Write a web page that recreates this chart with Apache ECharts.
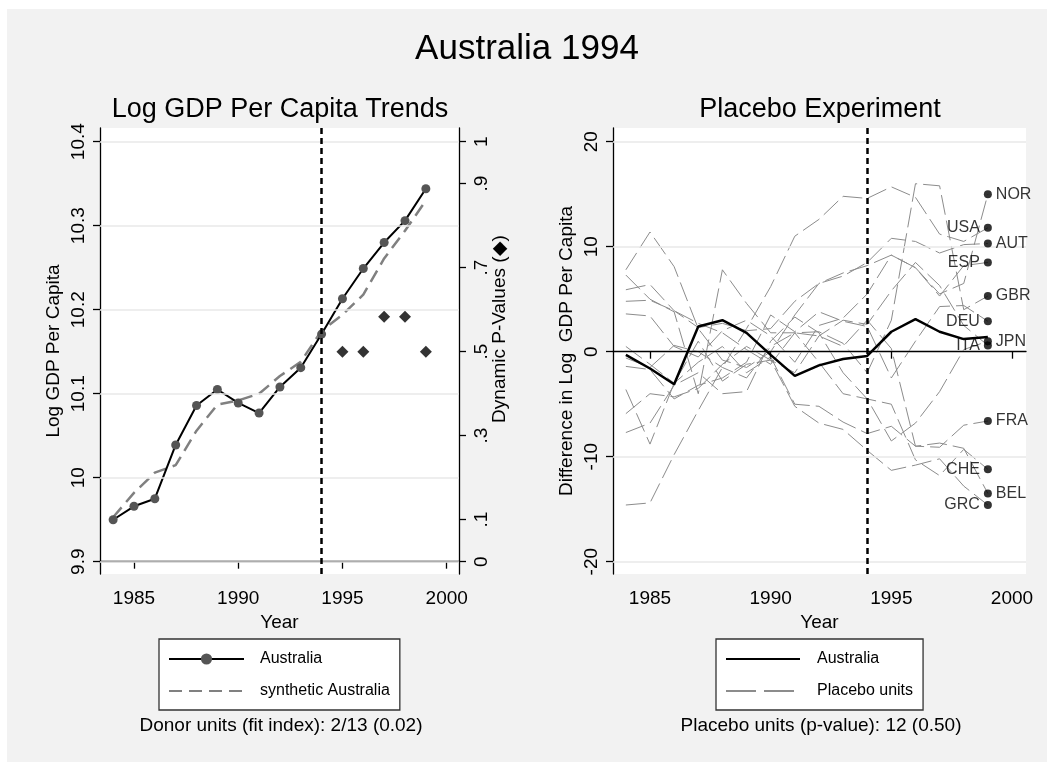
<!DOCTYPE html>
<html>
<head>
<meta charset="utf-8">
<script src="https://cdn.jsdelivr.net/npm/echarts@6/dist/echarts.min.js"></script>
<style>
  html, body { margin: 0; padding: 0; background: #ffffff; }
  #panel { position: absolute; left: 7px; top: 9px; width: 1040px; height: 753px; background: #f2f2f2; }
  #chart { position: absolute; left: 0; top: 0; width: 1054px; height: 770px; }
</style>
</head>
<body>
<div id="panel"></div>
<div id="chart"></div>
<script>
const years = [1984, 1985, 1986, 1987, 1988, 1989, 1990, 1991, 1992, 1993, 1994, 1995, 1996, 1997, 1998, 1999];
// log GDP per capita, left panel
const australia = [9.950, 9.966, 9.975, 10.039, 10.086, 10.105, 10.089, 10.077, 10.108, 10.131, 10.171, 10.213, 10.249, 10.280, 10.306, 10.344];
const synthetic = [9.953, 9.982, 10.006, 10.015, 10.056, 10.087, 10.092, 10.100, 10.121, 10.138, 10.175, 10.194, 10.218, 10.261, 10.294, 10.330];
// dynamic p-values after treatment
const pYears = [1995, 1996, 1997, 1998, 1999];
const pValues = [0.5, 0.5, 0.583, 0.583, 0.5];
const pTicks = [0, 0.1, 0.3, 0.5, 0.7, 0.9, 1];
const gdpTicks = [9.9, 10, 10.1, 10.2, 10.3, 10.4];
const yearTicks = [1985, 1990, 1995, 2000];
const gapTicks = [-20, -10, 0, 10, 20];

// gaps (x100) right panel
const australiaGap = [-0.3, -1.6, -3.1, 2.4, 3.0, 1.8, -0.3, -2.3, -1.3, -0.7, -0.4, 1.9, 3.1, 1.9, 1.2, 1.4];
const gapNOR = [3.6, 3.4, 0.5, -0.5, 2.0, 3.0, 1.5, -1.0, 2.5, 3.2, 5.5, 9.2, 8.0, 5.5, 6.5, 15.0];
const gapUSA = [-14.6, -14.4, -9.8, -5.6, -1.5, 2.2, 6.2, 11.0, 12.6, 14.8, 14.6, 15.7, 14.7, 11.2, 10.5, 11.8];
const gapAUT = [5.9, 6.4, 3.9, 2.3, 2.7, 2.0, 2.2, 4.8, 6.5, 7.2, 8.5, 10.8, 10.5, 9.4, 10.2, 10.3];
const gapESP = [7.8, 11.4, 8.1, 2.2, -0.8, -1.5, 0.0, 3.5, 6.5, 7.5, 8.2, 9.2, 8.0, 5.3, 8.2, 8.5];
const gapGBR = [4.8, 4.9, 3.9, 2.7, 1.8, 0.2, -1.2, 1.8, 1.9, 0.8, -2.0, 3.0, 16.0, 15.8, 4.0, 5.3];
const gapDEU = [-1.4, -1.7, -4.5, -3.2, -2.5, -1.0, 3.5, 1.9, 3.8, 2.9, 2.4, -2.5, 1.0, 4.3, 4.4, 2.9];
const gapJPN = [-7.7, -6.8, -3.2, -2.0, -4.0, -3.8, 1.0, 3.3, 1.8, -2.0, -4.5, -8.5, -6.8, -3.8, 0.2, 1.0];
const gapITA = [-3.6, -8.8, -3.0, 1.0, -2.8, -1.2, -0.8, -2.0, 1.5, 3.0, 2.6, 5.8, 8.5, 6.3, 2.5, 0.6];
const gapFRA = [0.5, -1.2, -3.0, -1.0, 0.5, -2.0, -0.5, -5.0, -5.2, -6.7, -7.8, -7.1, -9.0, -9.1, -7.0, -6.6];
const gapCHE = [7.3, 5.0, 3.8, -4.0, 7.8, 4.6, 1.8, 1.8, -1.0, -4.0, -4.5, -5.0, -10.3, -11.8, -9.3, -11.2];
const gapBEL = [-0.6, -1.5, 0.6, 0.0, -1.5, -2.5, 0.5, 1.8, 1.5, 0.5, 3.0, 0.3, -9.0, -8.7, -9.2, -13.5];
const gapGRC = [-5.9, -4.0, -4.3, -3.5, -1.2, 0.5, -0.8, -5.2, -6.8, -7.4, -9.4, -11.3, -10.8, -10.2, -12.8, -14.6];

const placeboNames = ['NOR', 'USA', 'AUT', 'ESP', 'GBR', 'DEU', 'JPN', 'ITA', 'FRA', 'CHE', 'BEL', 'GRC'];
const placeboGaps = [gapNOR, gapUSA, gapAUT, gapESP, gapGBR, gapDEU, gapJPN, gapITA, gapFRA, gapCHE, gapBEL, gapGRC];
const labelSide = ['right', 'left', 'right', 'left', 'right', 'left', 'right', 'left', 'right', 'left', 'right', 'left'];

const FONT = '"Liberation Sans", Arial, Helvetica, sans-serif';
const pair = (xs, ys) => xs.map((x, i) => [x, ys[i]]);

const chart = echarts.init(document.getElementById('chart'));

const axisText = {fontSize: 19, color: '#000', fontFamily: FONT};
const blackLine = {show: true, lineStyle: {color: '#000', width: 1.3}};
const noSymbol = {opacity: 0};

const placeboSeries = placeboGaps.map((g) => ({
  name: 'Placebo units',
  type: 'line',
  xAxisIndex: 1,
  yAxisIndex: 2,
  data: pair(years, g),
  symbol: 'none',
  silent: true,
  lineStyle: {color: '#8c8c8c', width: 1, type: [20, 6]},
  z: 2
}));

const yearAxis = (grid, min, max) => ({
  type: 'value', gridIndex: grid, min: min, max: max,
  axisLine: blackLine,
  axisTick: {show: true, customValues: yearTicks, length: 7, lineStyle: {color: '#000', width: 1.3}},
  axisLabel: {customValues: yearTicks, margin: 15, formatter: (v) => String(v), ...axisText},
  splitLine: {show: false},
  name: 'Year', nameLocation: 'middle', nameGap: 31, nameTextStyle: axisText
});

const option = {
  animation: false,
  textStyle: {fontFamily: FONT},
  graphic: [
    {type: 'text', x: 527, y: 49, style: {text: 'Australia 1994', fontSize: 35, fontFamily: FONT, fill: '#000', align: 'center', verticalAlign: 'middle'}},
    {type: 'text', x: 280, y: 110, style: {text: 'Log GDP Per Capita Trends', fontSize: 27, fontFamily: FONT, fill: '#000', align: 'center', verticalAlign: 'middle'}},
    {type: 'text', x: 820, y: 110, style: {text: 'Placebo Experiment', fontSize: 27, fontFamily: FONT, fill: '#000', align: 'center', verticalAlign: 'middle'}},
    {type: 'text', x: 500, y: 329, rotation: Math.PI / 2, style: {text: 'Dynamic P-Values (\u25C6)', fontSize: 19, fontFamily: FONT, fill: '#000', align: 'center', verticalAlign: 'middle'}},
    {type: 'text', x: 281, y: 726, style: {text: 'Donor units (fit index): 2/13 (0.02)', fontSize: 19, fontFamily: FONT, fill: '#000', align: 'center', verticalAlign: 'middle'}},
    {type: 'text', x: 821, y: 726, style: {text: 'Placebo units (p-value): 12 (0.50)', fontSize: 19, fontFamily: FONT, fill: '#000', align: 'center', verticalAlign: 'middle'}}
  ],
  grid: [
    {left: 100, top: 128, width: 359, height: 446, show: true, backgroundColor: '#fff', borderWidth: 0},
    {left: 613, top: 128, width: 413, height: 446, show: true, backgroundColor: '#fff', borderWidth: 0}
  ],
  legend: [
    {
      data: ['Australia', {name: 'synthetic Australia', itemStyle: noSymbol}],
      orient: 'vertical', left: 159, top: 639,
      itemWidth: 75, itemHeight: 14, itemGap: 16,
      padding: [12, 10, 11, 9],
      backgroundColor: '#fff', borderColor: '#333', borderWidth: 1.3, borderRadius: 0,
      selectedMode: false,
      textStyle: {fontSize: 16, color: '#000', fontFamily: FONT, padding: [0, 0, 0, 11]}
    },
    {
      data: [{name: 'Australia ', itemStyle: noSymbol}, {name: 'Placebo units', itemStyle: noSymbol, lineStyle: {type: [30, 8]}}],
      orient: 'vertical', left: 716, top: 639,
      itemWidth: 74, itemHeight: 14, itemGap: 16,
      padding: [12, 10, 11, 9],
      backgroundColor: '#fff', borderColor: '#333', borderWidth: 1.3, borderRadius: 0,
      selectedMode: false,
      formatter: (n) => n.trim(),
      textStyle: {fontSize: 16, color: '#000', fontFamily: FONT, padding: [0, 0, 0, 12]}
    }
  ],
  xAxis: [
    yearAxis(0, 1983.37, 2000.59),
    yearAxis(1, 1983.467, 2000.58)
  ],
  yAxis: [
    {
      type: 'value', gridIndex: 0, position: 'left', min: 9.8854, max: 10.4163,
      axisLine: blackLine,
      axisTick: {show: true, customValues: gdpTicks, length: 7, lineStyle: {color: '#000', width: 1.3}},
      axisLabel: {customValues: gdpTicks, rotate: 90, margin: 12, formatter: (v) => String(Math.round(v * 10) / 10), ...axisText},
      splitLine: {show: false},
      name: 'Log GDP Per Capita', nameLocation: 'middle', nameRotate: 90, nameGap: 37, nameTextStyle: axisText
    },
    {
      type: 'value', gridIndex: 0, position: 'right', min: -0.0293, max: 1.0326,
      axisLine: blackLine,
      axisTick: {show: true, customValues: pTicks, length: 7, lineStyle: {color: '#000', width: 1.3}},
      axisLabel: {customValues: pTicks, rotate: 90, margin: 13,
        formatter: (v) => (v === 0 || v === 1) ? String(v) : String(Math.round(v * 10) / 10).replace('0.', '.'), ...axisText},
      splitLine: {show: false}
    },
    {
      type: 'value', gridIndex: 1, position: 'left', min: -21.171, max: 21.305,
      axisLine: blackLine,
      axisTick: {show: true, customValues: gapTicks, length: 7, lineStyle: {color: '#000', width: 1.3}},
      axisLabel: {customValues: gapTicks, rotate: 90, margin: 12, ...axisText},
      splitLine: {show: false},
      name: 'Difference in Log  GDP Per Capita', nameLocation: 'middle', nameRotate: 90, nameGap: 37, nameTextStyle: axisText
    }
  ],
  series: [
    {
      name: 'grid-left', type: 'line', xAxisIndex: 0, yAxisIndex: 0, data: [], silent: true, z: 1,
      markLine: {
        silent: true, symbol: ['none', 'none'], label: {show: false}, animation: false,
        lineStyle: {color: '#e9e9e9', width: 1.5, type: 'solid'},
        data: gdpTicks.map((v) => ({yAxis: v}))
      }
    },
    {
      name: 'grid-right', type: 'line', xAxisIndex: 1, yAxisIndex: 2, data: [], silent: true, z: 1,
      markLine: {
        silent: true, symbol: ['none', 'none'], label: {show: false}, animation: false,
        lineStyle: {color: '#e9e9e9', width: 1.5, type: 'solid'},
        data: gapTicks.filter((v) => v !== 0).map((v) => ({yAxis: v}))
      }
    },
    {
      name: 'synthetic Australia', type: 'line', xAxisIndex: 0, yAxisIndex: 0,
      data: pair(years, synthetic), symbol: 'none',
      itemStyle: {color: '#808080'},
      lineStyle: {color: '#808080', width: 2.5, type: [13, 7]},
      z: 2
    },
    {
      name: 'Australia', type: 'line', xAxisIndex: 0, yAxisIndex: 0,
      data: pair(years, australia), symbol: 'circle', symbolSize: 9, showSymbol: true,
      itemStyle: {color: '#555555'},
      lineStyle: {color: '#000', width: 2},
      z: 3,
      markLine: {
        silent: true, symbol: ['none', 'none'], label: {show: false}, animation: false,
        lineStyle: {color: '#000', width: 2.5, type: [6, 4]},
        data: [{xAxis: 1994}]
      }
    },
    {
      name: 'p-values', type: 'scatter', xAxisIndex: 0, yAxisIndex: 1,
      data: pair(pYears, pValues), symbol: 'diamond', symbolSize: 12,
      itemStyle: {color: '#000'}, z: 4
    },
    ...placeboSeries,
    {
      name: 'Australia ', type: 'line', xAxisIndex: 1, yAxisIndex: 2,
      data: pair(years, australiaGap), symbol: 'none',
      itemStyle: {color: '#000'},
      lineStyle: {color: '#000', width: 2.5},
      z: 4,
      markLine: {
        silent: true, symbol: ['none', 'none'], label: {show: false}, animation: false,
        data: [
          {yAxis: 0, lineStyle: {color: '#000', width: 1.2, type: 'solid'}},
          {xAxis: 1994, lineStyle: {color: '#000', width: 2.5, type: [6, 4]}}
        ]
      }
    },
    {
      name: 'countries', type: 'scatter', xAxisIndex: 1, yAxisIndex: 2,
      symbol: 'circle', symbolSize: 8,
      itemStyle: {color: '#000'},
      z: 5,
      data: placeboNames.map((n, i) => ({
        name: n,
        value: [years[years.length - 1], placeboGaps[i][placeboGaps[i].length - 1]],
        label: {show: true, position: labelSide[i], distance: 4, formatter: n, fontSize: 16, color: '#000', fontFamily: FONT}
      }))
    }
  ]
};

chart.setOption(option);
</script>
</body>
</html>
